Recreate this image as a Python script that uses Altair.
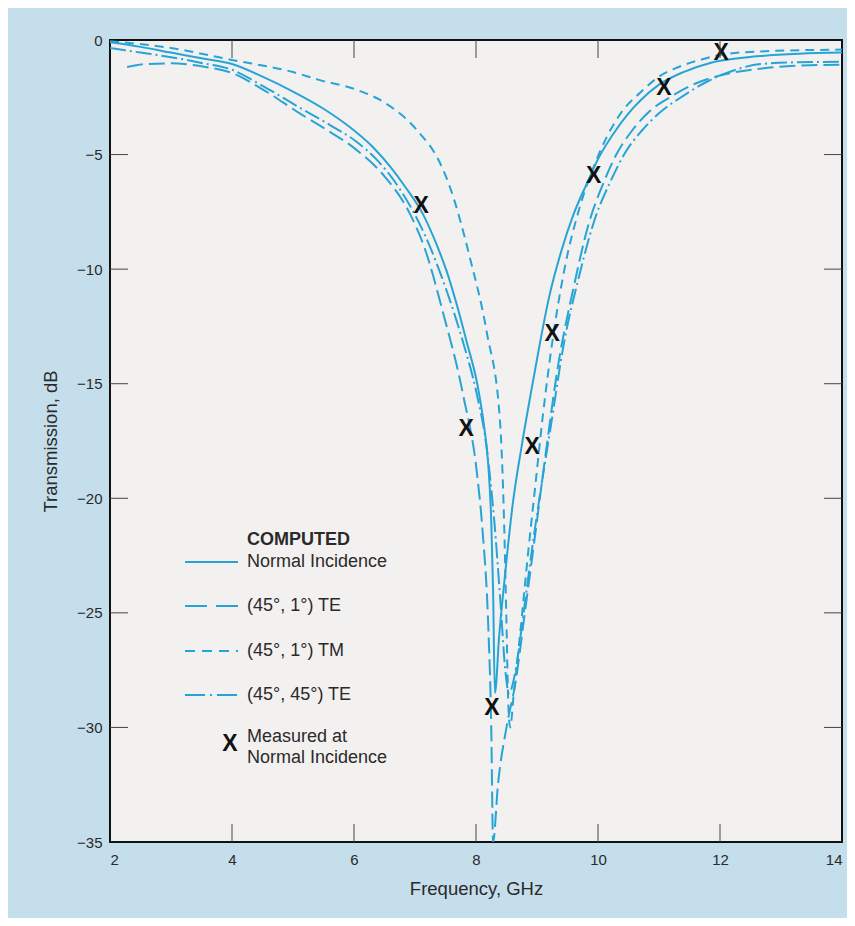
import altair as alt
import pandas as pd

# ---------------- data ----------------
normal_f = [2.0, 2.5, 3.0, 3.5, 4.0, 4.5, 5.0, 5.5, 5.93, 6.3, 6.6, 6.85, 7.13, 7.35, 7.52, 7.69, 7.85, 8.02,
            8.13, 8.2, 8.25, 8.28, 8.31,
            8.38, 8.47, 8.6, 8.75, 8.9, 9.05, 9.2, 9.4, 9.6, 9.82, 10.0, 10.25, 10.5, 10.69, 11.0, 11.4,
            11.84, 12.3, 12.66, 13.3, 14.0]
normal_db = [-0.1, -0.3, -0.55, -0.8, -1.05, -1.6, -2.25, -3.0, -3.8, -4.65, -5.55, -6.45, -7.6, -8.9, -10.1, -11.6,
             -13.2, -15.0, -16.8, -18.5, -21.0, -24.0, -28.5,
             -26.0, -23.5, -20.3, -17.7, -15.4, -13.2, -11.2, -9.2, -7.6, -6.25, -5.2, -4.1, -3.2, -2.65, -1.95,
             -1.4, -1.0, -0.8, -0.7, -0.6, -0.55]

te451_f = [2.28, 2.6, 3.0, 3.5, 4.0, 4.5, 5.11, 5.6, 6.02, 6.5, 6.92, 7.16, 7.46, 7.79, 8.02, 8.11, 8.2, 8.25,
           8.28,
           8.36, 8.5, 8.65, 8.8, 8.95, 9.13, 9.34, 9.6, 9.85, 10.08, 10.3, 10.56, 10.85, 11.18, 11.6, 12.0,
           12.66, 13.3, 14.0]
te451_db = [-1.18, -1.05, -1.02, -1.15, -1.44, -2.15, -3.2, -4.0, -4.75, -5.95, -7.6, -9.1, -11.9, -15.5, -19.0,
            -21.5, -25.5, -30.0, -35.0,
            -32.5, -30.0, -28.0, -25.0, -22.0, -18.3, -14.3, -10.8, -8.0, -6.3, -5.0, -3.95, -3.1, -2.5, -1.9,
            -1.55, -1.25, -1.12, -1.08]

tm451_f = [2.0, 3.0, 4.0, 5.0, 5.44, 6.02, 6.48, 7.03, 7.41, 7.57, 7.9, 8.18, 8.39, 8.46, 8.5, 8.53, 8.56,
           8.62, 8.72, 8.85, 8.97, 9.1, 9.25, 9.45, 9.7, 9.92, 10.15, 10.4, 10.69, 11.0, 11.3, 11.7, 12.0,
           12.66, 14.0]
tm451_db = [-0.05, -0.35, -0.87, -1.4, -1.75, -2.15, -2.7, -3.93, -5.37, -6.4, -9.5, -12.8, -16.5, -21.0, -25.5,
            -29.0, -30.0,
            -28.5, -26.0, -22.5, -19.5, -16.3, -13.2, -10.0, -7.3, -5.6, -4.2, -3.1, -2.3, -1.6, -1.2, -0.85,
            -0.65, -0.5, -0.42]

te4545_f = [2.0, 2.5, 3.0, 3.5, 4.0, 4.5, 5.11, 5.6, 6.02, 6.4, 6.75, 7.16, 7.5, 7.8, 8.0, 8.18, 8.3, 8.4,
            8.48, 8.54,
            8.65, 8.78, 8.93, 9.08, 9.23, 9.43, 9.7, 9.95, 10.2, 10.45, 10.72, 11.0, 11.39, 11.8, 12.2, 12.66,
            13.3, 14.0]
te4545_db = [-0.35, -0.55, -0.75, -1.0, -1.3, -2.0, -2.95, -3.7, -4.4, -5.3, -6.5, -8.5, -10.8, -13.3, -15.3,
             -17.9, -21.0, -24.5, -27.5, -28.5,
             -27.5, -25.0, -22.0, -19.3, -16.8, -13.4, -10.2, -7.8, -6.2, -4.9, -3.95, -3.2, -2.45, -1.8, -1.35,
             -1.05, -0.97, -0.95]

meas_f = [7.10, 7.84, 8.26, 8.92, 9.25, 9.93, 11.08, 12.02]
meas_db = [-7.2, -16.95, -29.1, -17.73, -12.8, -5.9, -2.05, -0.52]

x_label_values = [2, 4, 6, 8, 10, 12, 14]
y_label_values = [0, -5, -10, -15, -20, -25, -30, -35]
x_inner_ticks = [4, 6, 8, 10, 12]
y_inner_ticks = [-5, -10, -15, -20, -25, -30]

legend_labels = ["Normal Incidence", "(45°, 1°) TE", "(45°, 1°) TM", "(45°, 45°) TE"]

# ---------------- styling ----------------
FONT = "Liberation Sans"
BLUE = "#27a4d6"
TXT = "#2a2a2a"
W, H = 732, 802
TICK = 18

xs = alt.Scale(domain=[2, 14], nice=False, zero=False)
ys = alt.Scale(domain=[-35, 0], nice=False, zero=False)

xaxis = alt.Axis(title="Frequency, GHz", values=x_label_values, format="d", domain=False, ticks=False,
                 grid=False, labelPadding=10, titlePadding=12, labelFontSize=15, titleFontSize=18.5,
                 labelColor=TXT, titleColor=TXT, titleFontWeight="normal", labelFont=FONT, titleFont=FONT)
yaxis = alt.Axis(title="Transmission, dB", values=y_label_values, format="d", domain=False, ticks=False,
                 grid=False, labelPadding=8, titlePadding=16, labelFontSize=15, titleFontSize=18.5,
                 labelColor=TXT, titleColor=TXT, titleFontWeight="normal", labelFont=FONT, titleFont=FONT)

X = alt.X("f:Q", scale=xs, axis=xaxis)
Y = alt.Y("db:Q", scale=ys, axis=yaxis)

dashes = [None, [16, 6], [9, 6], [16, 4, 2, 4]]
legend_dashes = [None, [22, 9], [10, 7], [20, 5, 2, 5]]
series_data = [(normal_f, normal_db), (te451_f, te451_db), (tm451_f, tm451_db), (te4545_f, te4545_db)]

layers = []
for (f, d), dash in zip(series_data, dashes):
    df = pd.DataFrame({"f": f, "db": d})
    kw = dict(color=BLUE, strokeWidth=2, clip=True, interpolate="monotone")
    if dash:
        kw["strokeDash"] = dash
    layers.append(alt.Chart(df).mark_line(**kw).encode(x=X, y=Y))

# measured points
meas_df = pd.DataFrame({"f": meas_f, "db": meas_db})
layers.append(
    alt.Chart(meas_df).mark_text(text="X", font=FONT, fontSize=23, fontWeight="bold", color="#111",
                                 baseline="middle", align="center", dy=1).encode(x=X, y=Y)
)

# inner ticks on all four sides
xt = pd.DataFrame({"f": x_inner_ticks})
yt = pd.DataFrame({"db": y_inner_ticks})
tick_kw = dict(color="#444", strokeWidth=1)
layers.append(alt.Chart(xt).mark_rule(**tick_kw).encode(x=X, y=alt.value(0), y2=alt.value(TICK)))
layers.append(alt.Chart(xt).mark_rule(**tick_kw).encode(x=X, y=alt.value(H), y2=alt.value(H - TICK)))
layers.append(alt.Chart(yt).mark_rule(**tick_kw).encode(y=Y, x=alt.value(0), x2=alt.value(TICK)))
layers.append(alt.Chart(yt).mark_rule(**tick_kw).encode(y=Y, x=alt.value(W), x2=alt.value(W - TICK)))

# legend (hand-placed)
one = pd.DataFrame({"k": [0]})
LX0, LX1, LT = 75, 128, 137
LFS = 18
rows = [522, 566, 611, 655]
layers.append(alt.Chart(one).mark_text(text="COMPUTED", align="left", baseline="middle", font=FONT,
                                       fontSize=LFS, fontWeight="bold", color=TXT).encode(
    x=alt.value(LT), y=alt.value(500)))
for lab, dash, ry in zip(legend_labels, legend_dashes, rows):
    kw = dict(color=BLUE, strokeWidth=2)
    if dash:
        kw["strokeDash"] = dash
    layers.append(alt.Chart(one).mark_rule(**kw).encode(
        x=alt.value(LX0), x2=alt.value(LX1), y=alt.value(ry)))
    layers.append(alt.Chart(one).mark_text(text=lab, align="left", baseline="middle", font=FONT,
                                           fontSize=LFS, color=TXT).encode(
        x=alt.value(LT), y=alt.value(ry)))
layers.append(alt.Chart(one).mark_text(text="X", align="center", baseline="middle", font=FONT,
                                       fontSize=23, fontWeight="bold", color="#111").encode(
    x=alt.value(120), y=alt.value(704)))
layers.append(alt.Chart(one).mark_text(text="Measured at", align="left", baseline="middle", font=FONT,
                                       fontSize=LFS, color=TXT).encode(x=alt.value(LT), y=alt.value(697)))
layers.append(alt.Chart(one).mark_text(text="Normal Incidence", align="left", baseline="middle", font=FONT,
                                       fontSize=LFS, color=TXT).encode(x=alt.value(LT), y=alt.value(718)))

chart = alt.layer(*layers).properties(
    width=W, height=H,
    padding={"left": 102, "top": 32, "right": 5, "bottom": 76},
    autosize=alt.AutoSizeParams(type="none"),
    background="#c5deec",
).configure_view(stroke="#111", strokeWidth=2, fill="#f3f1f0")

chart.save("out.html", embed_options={"renderer": "svg", "actions": False})
